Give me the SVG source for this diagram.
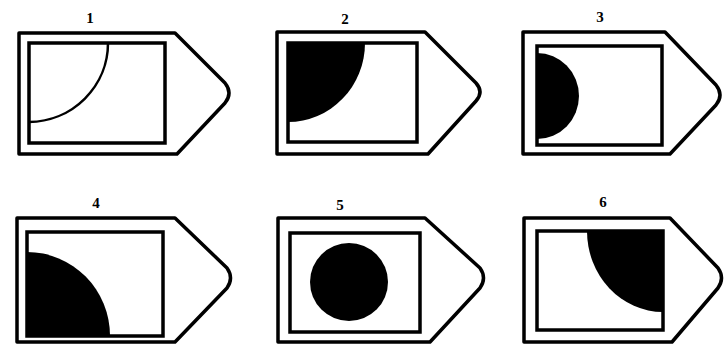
<svg xmlns="http://www.w3.org/2000/svg" width="726" height="350" viewBox="0 0 726 350">
<style>
.outer{fill:none;stroke:#000;stroke-width:3.5;stroke-linejoin:round}
.inner{fill:none;stroke:#000;stroke-width:3.5}
.blk{fill:#000;stroke:none}
.arc{fill:none;stroke:#000;stroke-width:2.5}
.lbl{font-family:"Liberation Serif",serif;font-weight:bold;font-size:15px;text-anchor:middle;fill:#000}
</style>
<rect width="726" height="350" fill="#fff"/>
<g id="fig1">
<text class="lbl" x="90" y="23">1</text>
<path class="outer" d="M19,33 H175 L225,83 Q233,93 225,103 L177,154 H19 Z"/>
<rect class="inner" x="29" y="43" width="136" height="100"/>
<path class="arc" d="M108,43 A80,79 0 0 1 29,122"/>
</g>
<g id="fig2">
<text class="lbl" x="345" y="24">2</text>
<path class="outer" d="M277,32 H425 L476,83 Q484,92 476,101 L428,154 H277 Z"/>
<path class="blk" d="M288,43 H365 A77,79 0 0 1 288,122 Z"/>
<rect class="inner" x="288" y="43" width="129" height="99"/>
</g>
<g id="fig3">
<text class="lbl" x="600" y="22">3</text>
<path class="outer" d="M523,32 H665 L716,85 Q724,95 716,105 L670,154 H523 Z"/>
<path class="blk" d="M537,53 A42,43 0 0 1 537,139 Z"/>
<rect class="inner" x="537" y="46" width="125" height="99"/>
</g>
<g id="fig4">
<text class="lbl" x="96" y="208">4</text>
<path class="outer" d="M17,218 H175 L227,268 Q234,278 227,288 L175,342 H17 Z"/>
<path class="blk" d="M27,252 A83,84 0 0 1 110,336 H27 Z"/>
<rect class="inner" x="27" y="232" width="136" height="104"/>
</g>
<g id="fig5">
<text class="lbl" x="340" y="210">5</text>
<path class="outer" d="M278,218 H425 L480,268 Q487,278 480,288 L430,342 H278 Z"/>
<rect class="inner" x="290" y="233" width="130" height="99"/>
<circle class="blk" cx="349" cy="282" r="39"/>
</g>
<g id="fig6">
<text class="lbl" x="603" y="207">6</text>
<path class="outer" d="M524,218 H670 L718,268 Q725,278 718,288 L672,342 H524 Z"/>
<path class="blk" d="M587,231 H663 V312 A76,81 0 0 1 587,231 Z"/>
<rect class="inner" x="537" y="231" width="126" height="99"/>
</g>
</svg>
